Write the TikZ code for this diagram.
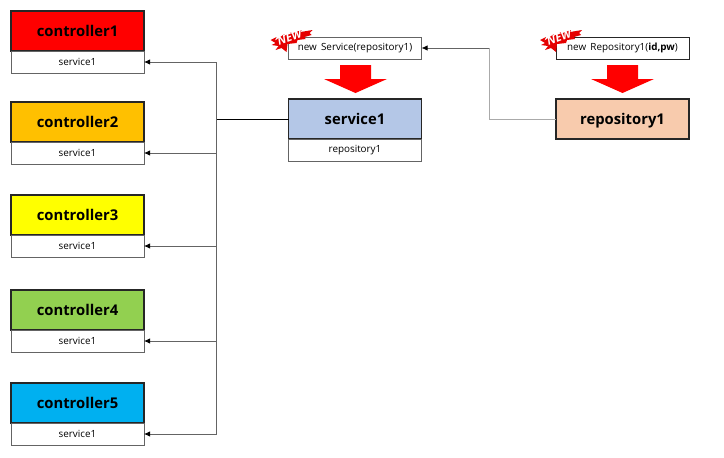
\documentclass[tikz,border=0pt]{standalone}
\usepackage{fontspec}
\usepackage{tikz}
\usetikzlibrary{positioning,arrows.meta}
\setmainfont{Open Sans}
\definecolor{headred}{RGB}{255, 0, 0}
\definecolor{headorange}{RGB}{255, 192, 0}
\definecolor{headyellow}{RGB}{255, 255, 0}
\definecolor{headgreen}{RGB}{146, 208, 80}
\definecolor{headcyan}{RGB}{0, 176, 240}
\definecolor{headblue}{RGB}{180, 199, 231}
\definecolor{headpeach}{RGB}{248, 203, 173}
\definecolor{wiregray}{RGB}{100, 100, 100}
\definecolor{lightwire}{RGB}{170, 170, 170}
\tikzset{
  headbox/.style={draw=black!85, line width=1.1pt, outer sep=0pt, minimum width=99.75pt, minimum height=30pt, text height=1.05em, text depth=0.25em, font=\fontsize{11.1}{13}\selectfont\bfseries},
  subbox/.style={draw=wiregray, line width=0.7pt, outer sep=0pt, minimum width=99.75pt, minimum height=16.5pt, inner sep=0pt, font=\fontsize{7.4}{9}\selectfont},
  bigarrow/.pic={
    \fill[red] (-15.5,-14) -- (15.5,-14) -- (15.5,0) -- (31.5,0) -- (0,14) -- (-31.5,0) -- (-15.5,0) -- cycle;
  },
  newbadge/.pic={
    \fill[red!90!black] (-21,-1) -- (-15,-4) -- (-17,0) -- (-7,-7) -- (-9,-4) -- (0,-9) -- (-1,-7) -- (10,-11) -- (9,-9) -- (21,-11) -- (18,-8) -- (20,-6) -- (13,-4) -- (14,-2) -- (6,-1) -- (5,2) -- (-4,3) -- (-5,11) -- (-10,7) -- (-16,9) -- (-13,5) -- (-20,4) -- (-16,2) -- cycle;
    \node[text=white, rotate=20, inner sep=0pt, font=\fontsize{8.5}{9}\selectfont\bfseries\itshape] (-label) at (-2,-4) {NEW};
  },
  wire/.style={wiregray, line width=0.6pt, -{Latex[black,length=4.5pt,width=4pt]}}
}
\begin{document}
\begin{tikzpicture}[x=0.75pt, y=-0.75pt]
  \useasboundingbox (0,0) rectangle (724,457);
  % controllers
  \node[headbox, fill=headred] (c1) at (77.5,31) {controller1};
  \node[subbox, below=0pt of c1] (s1) {service1};
  \node[headbox, fill=headorange] (c2) at (77.5,122) {controller2};
  \node[subbox, below=0pt of c2] (s2) {service1};
  \node[headbox, fill=headyellow] (c3) at (77.5,215) {controller3};
  \node[subbox, below=0pt of c3] (s3) {service1};
  \node[headbox, fill=headgreen] (c4) at (77.5,310) {controller4};
  \node[subbox, below=0pt of c4] (s4) {service1};
  \node[headbox, fill=headcyan] (c5) at (77.5,403) {controller5};
  \node[subbox, below=0pt of c5] (s5) {service1};
  % service
  \node[headbox, fill=headblue] (svc) at (355,119) {service1};
  \node[subbox, below=0pt of svc] (svcsub) {repository1};
  \node[subbox] (svcnew) at (355,48) {new\, Service(repository1)};
  \pic (svcarrow) at (355.5,79) {bigarrow};
  % repository
  \node[headbox, fill=headpeach] (repo) at (622.5,119) {repository1};
  \node[subbox, draw=black!85] (reponew) at (622.5,48) {new\, Repository1(\textbf{id,pw})};
  \pic (repoarrow) at (622.5,79) {bigarrow};
  % badges
  \pic (svcbadge) at (291.5,41) {newbadge};
  \pic (repobadge) at (561,41) {newbadge};
  % wires
  \coordinate (bus) at (216.5,119);
  \coordinate (turn) at (489,119);
  \draw[black, line width=0.7pt] (svc.west) -- (bus);
  \draw[wire] (bus) |- (s1.east);
  \draw[wire] (bus) |- (s2.east);
  \draw[wire] (bus) |- (s3.east);
  \draw[wire] (bus) |- (s4.east);
  \draw[wire] (bus) |- (s5.east);
  \draw[lightwire, line width=0.7pt] (repo.west) -- (turn) -- (turn |- svcnew.east);
  \draw[wire] (turn |- svcnew.east) -- (svcnew.east);
\end{tikzpicture}
\end{document}
